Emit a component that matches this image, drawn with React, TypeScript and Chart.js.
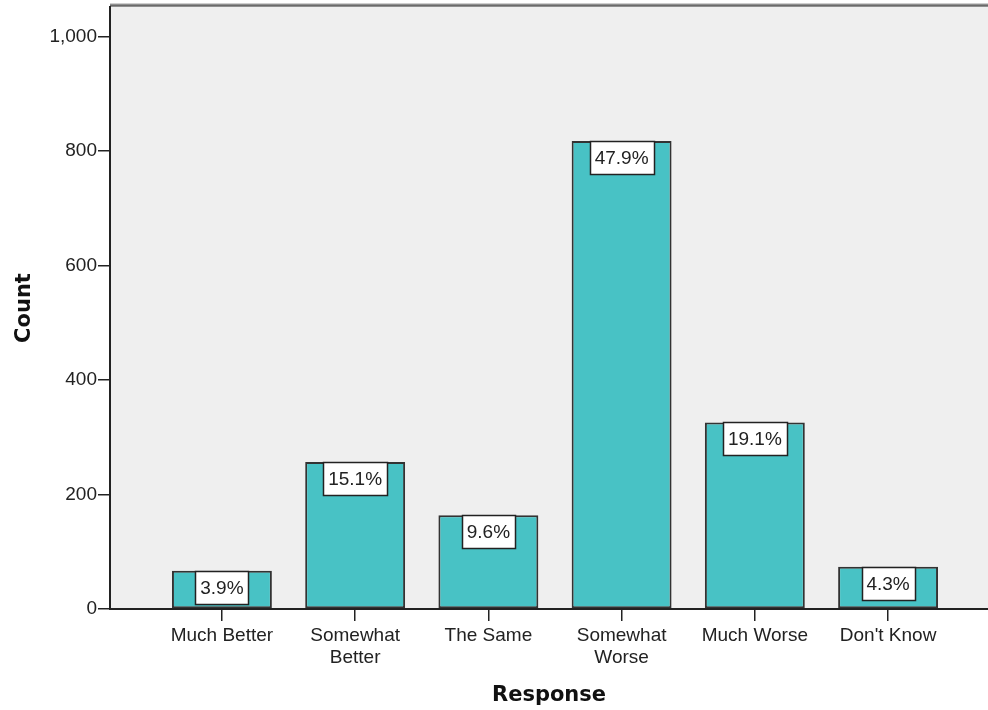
import React, { useEffect, useRef } from "react";
import { Chart, registerables } from "chart.js";

Chart.register(...registerables);

const categories: (string | string[])[] = [
  "Much Better",
  ["Somewhat", "Better"],
  "The Same",
  ["Somewhat", "Worse"],
  "Much Worse",
  "Don't Know",
];
const counts = [67, 257, 164, 818, 326, 74];
const percentLabels = ["3.9%", "15.1%", "9.6%", "47.9%", "19.1%", "4.3%"];
const yTickValues = [0, 200, 400, 600, 800, 1000];

const TICK_FONT = { family: "'Liberation Sans', Arial, sans-serif", size: 19 };
const TITLE_FONT = { family: "'DejaVu Sans', Verdana, sans-serif", size: 21, weight: "bold" as const };

const plotBgPlugin = {
  id: "plotBg",
  beforeDraw(chart: any) {
    const { ctx, chartArea } = chart;
    ctx.save();
    ctx.fillStyle = "#efefef";
    ctx.fillRect(chartArea.left, chartArea.top, chartArea.right - chartArea.left, chartArea.bottom - chartArea.top);
    ctx.strokeStyle = "#cfcfcf";
    ctx.lineWidth = 1;
    ctx.beginPath();
    ctx.moveTo(chartArea.left, chartArea.top - 3.5);
    ctx.lineTo(chartArea.right, chartArea.top - 3.5);
    ctx.stroke();
    ctx.strokeStyle = "#6a6a6a";
    ctx.lineWidth = 2.5;
    ctx.beginPath();
    ctx.moveTo(chartArea.left, chartArea.top - 1.5);
    ctx.lineTo(chartArea.right, chartArea.top - 1.5);
    ctx.stroke();
    ctx.restore();
  },
};

const boxLabelPlugin = {
  id: "boxLabels",
  afterDatasetsDraw(chart: any) {
    const { ctx } = chart;
    const meta = chart.getDatasetMeta(0);
    ctx.save();
    ctx.font = `${TICK_FONT.size}px ${TICK_FONT.family}`;
    meta.data.forEach((el: any, i: number) => {
      const text = percentLabels[i];
      const w = ctx.measureText(text).width;
      const bw = Math.round(w + 10);
      const bh = 33;
      const x = Math.round(el.x - bw / 2) + 0.5;
      const y = Math.round(el.y) + 0.5;
      ctx.fillStyle = "#ffffff";
      ctx.fillRect(x, y, bw, bh);
      ctx.strokeStyle = "#222222";
      ctx.lineWidth = 1.5;
      ctx.strokeRect(x, y, bw, bh);
      ctx.fillStyle = "#222222";
      ctx.textAlign = "center";
      ctx.textBaseline = "middle";
      ctx.fillText(text, el.x, y + bh / 2 + 1);
    });
    ctx.restore();
  },
};

function App() {
  const canvasRef = useRef<HTMLCanvasElement | null>(null);

  useEffect(() => {
    if (!canvasRef.current) return;
    const chart = new Chart(canvasRef.current, {
      type: "bar",
      data: {
        datasets: [
          {
            data: counts.map((v, i) => ({ x: i, y: v })),
            backgroundColor: "#48c2c5",
            borderColor: "#333333",
            borderWidth: 2,
            borderSkipped: false,
            categoryPercentage: 1,
            barPercentage: 0.75,
          },
        ],
      },
      options: {
        animation: false,
        responsive: false,
        devicePixelRatio: 1,
        layout: { padding: { top: 7, right: 0, left: 0, bottom: 0 } },
        plugins: {
          legend: { display: false },
          tooltip: { enabled: false },
        },
        scales: {
          x: {
            type: "linear",
            offset: false,
            min: -0.84,
            max: 5.75,
            afterBuildTicks: (scale: any) => {
              scale.ticks = categories.map((_, i) => ({ value: i }));
            },
            afterFit: (scale: any) => {
              scale.height = 101;
              scale.paddingLeft = 0;
              scale.paddingRight = 0;
            },
            grid: {
              offset: false,
              drawOnChartArea: false,
              drawTicks: true,
              tickLength: 12,
              color: "#222222",
              lineWidth: 1.5,
            },
            border: { display: true, color: "#222222", width: 2 },
            ticks: {
              autoSkip: false,
              maxRotation: 0,
              padding: 3,
              color: "#222222",
              font: TICK_FONT,
              callback: (value: any) => categories[value as number] as any,
            },
            title: {
              display: true,
              text: "Response",
              color: "#111111",
              font: TITLE_FONT,
              padding: { top: 0, bottom: 2 },
            },
          },
          y: {
            type: "linear",
            min: 0,
            max: 1052,
            afterBuildTicks: (scale: any) => {
              scale.ticks = yTickValues.map((v) => ({ value: v }));
            },
            afterFit: (scale: any) => {
              scale.width = 110;
              scale.paddingTop = 0;
              scale.paddingBottom = 0;
            },
            grid: {
              drawOnChartArea: false,
              drawTicks: true,
              tickLength: 12,
              color: "#222222",
              lineWidth: 1.5,
            },
            border: { display: true, color: "#222222", width: 2 },
            ticks: {
              padding: 1,
              color: "#222222",
              font: TICK_FONT,
              callback: (value: any) => Number(value).toLocaleString("en-US"),
            },
            title: {
              display: true,
              text: "Count",
              color: "#111111",
              font: TITLE_FONT,
              padding: { top: 12, bottom: 0 },
            },
          },
        },
      } as any,
      plugins: [plotBgPlugin, boxLabelPlugin],
    });
    return () => chart.destroy();
  }, []);

  return (
    <div style={{ position: "absolute", left: 0, top: 0, width: 988, height: 710, background: "#ffffff" }}>
      <canvas ref={canvasRef} width={988} height={710} style={{ display: "block" }} />
    </div>
  );
}

export default App;
